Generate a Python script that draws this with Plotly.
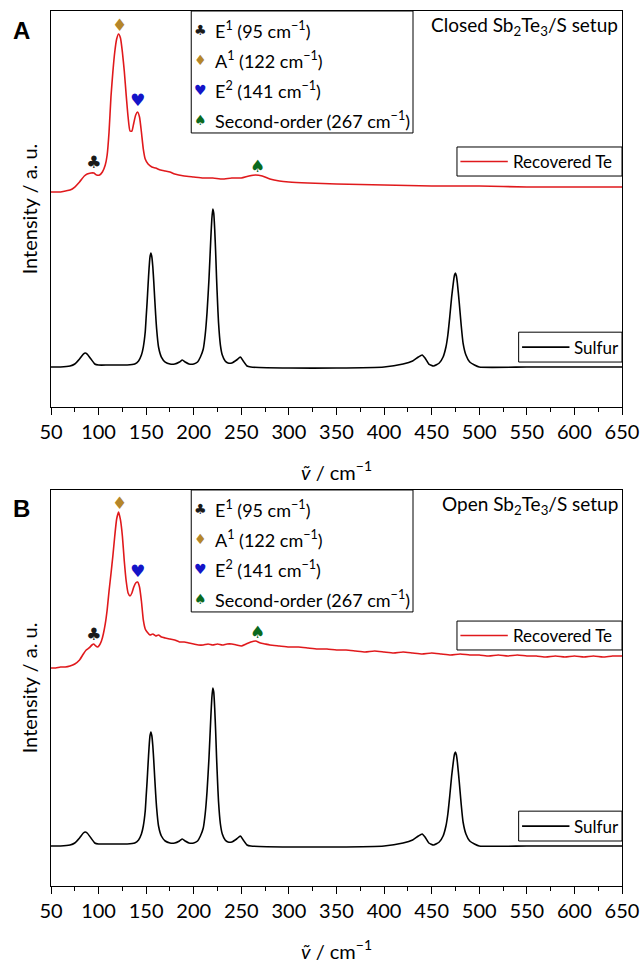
import plotly.graph_objects as go

# Raman shift axis
tick_labels = [str(v) for v in range(50, 651, 50)]

# Recovered Te, closed Sb2Te3/S setup (offset intensity, a.u.)
te_closed_x = [50, 55, 60, 65, 70, 75, 80, 85, 88, 92, 95, 98, 101, 104, 107, 109, 111, 113, 115, 117,
               119, 121, 123, 125, 127, 129, 131, 133, 135, 137, 139, 141, 143, 145, 147, 149, 152, 156,
               160, 165, 170, 175, 180, 190, 200, 210, 220, 230, 240, 250, 258, 265, 272, 280, 290, 300,
               320, 350, 400, 450, 500, 550, 600, 650]
te_closed_y = [215, 215, 215, 216, 217, 220, 225, 231, 233, 234, 234, 232, 232, 235, 242, 252, 275, 310,
               335, 355, 368, 373, 369, 355, 336, 312, 290, 276, 276, 284, 292, 295, 290, 275, 258, 248,
               243, 240, 239, 237, 236, 235, 233, 231, 230, 229, 229, 228, 229, 229, 231, 232, 231, 228,
               226, 225, 224, 223, 222, 221, 221, 220, 220, 220]

# Recovered Te, open Sb2Te3/S setup (offset intensity, a.u.)
te_open_x = [50, 55, 60, 65, 70, 75, 80, 84, 87, 90, 93, 95, 97, 99, 101, 103, 105, 107, 109, 111,
             113, 115, 117, 119, 121, 123, 125, 127, 129, 131, 133, 135, 137, 139, 141, 143, 145, 147,
             149, 151, 154, 157, 160, 163, 166, 170, 175, 180, 185, 190, 195, 200, 205, 210, 215, 220,
             225, 230, 235, 240, 245, 250, 255, 260, 265, 270, 275, 280, 290, 300,
             310, 320, 330, 340, 350, 360, 370, 380, 390, 400, 410, 420, 430, 440, 450, 460, 470, 480,
             490, 500, 510, 520, 530, 540, 550, 560, 570, 580, 590, 600, 610, 620, 630, 640, 650]
te_open_y = [218, 218, 219, 219, 220, 222, 226, 232, 236, 238, 241, 242, 240, 239, 241, 245, 252, 262,
             276, 295, 312, 330, 350, 367, 374, 366, 350, 325, 305, 293, 290, 293, 299, 303, 304, 299,
             285, 266, 257, 254, 251, 252, 250, 251, 249, 248, 247, 246, 244, 244, 243, 242, 241, 241,
             242, 241, 242, 241, 242, 242, 241, 240, 242, 244, 245, 243, 242, 241, 240, 239,
             239, 238, 237, 237, 236, 236, 235, 234, 235, 234, 233, 234, 233, 232, 233, 232, 231, 232,
             231, 231, 230, 231, 230, 231, 230, 230, 229, 230, 229, 230, 229, 230, 229, 230, 230]

# Sulfur reference spectrum (offset intensity, a.u.)
sulfur_x = [50, 60, 70, 75, 80, 84, 86, 88, 92, 96, 100, 110, 120, 130, 138, 142, 145, 147, 149, 150,
            151, 152, 153, 154, 155, 156, 157, 158, 159, 160, 161, 163, 166, 170, 175, 180, 185, 188,
            191, 195, 200, 204, 207, 210, 212, 214, 216, 218, 219, 220, 221, 222, 223, 224, 225, 226,
            228, 230, 233, 236, 240, 245, 249, 252, 256, 260, 300, 350, 400, 420, 430, 436, 440, 443,
            447, 452, 458, 462, 465, 467, 469, 471, 473, 474, 475, 476, 477, 479, 481, 483, 486, 490,
            495, 500, 550, 600, 650]
sulfur_y = [40, 40, 41, 43, 48, 53, 54, 53, 48, 43, 42, 42, 42, 42, 43, 46, 52, 60, 75, 90,
            105, 122, 138, 150, 154, 150, 140, 125, 108, 92, 78, 60, 50, 45, 43, 43, 45, 47,
            45, 43, 43, 45, 50, 58, 72, 95, 128, 170, 188, 198, 194, 178, 155, 128, 105, 85,
            62, 52, 46, 44, 44, 47, 50, 46, 41, 40, 39, 39, 40, 43, 46, 50, 52, 49,
            43, 41, 44, 50, 60, 72, 90, 110, 126, 132, 134, 131, 124, 104, 82, 64, 52, 45,
            42, 40, 40, 40, 40]

# Te phonon modes
mode_x = [95, 122, 141, 267]
mode_glyphs = ["\u2663", "\u2666", "\u2665", "\u2660"]
mode_colors = ["#1a1a1a", "#b5862a", "#1414c8", "#0a6a1e"]
mode_labels = ["E<sup>1</sup> (95 cm<sup>\u22121</sup>)",
               "A<sup>1</sup> (122 cm<sup>\u22121</sup>)",
               "E<sup>2</sup> (141 cm<sup>\u22121</sup>)",
               "Second-order (267 cm<sup>\u22121</sup>)"]
marker_y_closed = [243, 380, 305, 239]
marker_y_open = [250, 381, 313, 252]

setup_titles = ["Closed Sb<sub>2</sub>Te<sub>3</sub>/S setup", "Open Sb<sub>2</sub>Te<sub>3</sub>/S setup"]
panel_letters = ["A", "B"]

RED = "#e0191c"
FONT = "Lato"

fig = go.Figure()

panels = [
    ("x", "y", te_closed_x, te_closed_y, marker_y_closed),
    ("x2", "y2", te_open_x, te_open_y, marker_y_open),
]

shapes = []
annotations = []

for i, (xa, ya, tx, ty, my) in enumerate(panels):
    fig.add_trace(go.Scatter(x=tx, y=ty, mode="lines", xaxis=xa, yaxis=ya, name="Recovered Te",
                             line=dict(color=RED, width=1.6, shape="spline", smoothing=0.5),
                             showlegend=False))
    fig.add_trace(go.Scatter(x=sulfur_x, y=sulfur_y, mode="lines", xaxis=xa, yaxis=ya, name="Sulfur",
                             line=dict(color="black", width=1.6, shape="spline", smoothing=0.5),
                             showlegend=False))
    fig.add_trace(go.Scatter(x=mode_x, y=my, mode="text", xaxis=xa, yaxis=ya, text=mode_glyphs,
                             textposition="middle center",
                             textfont=dict(family="DejaVu Sans", size=17, color=mode_colors),
                             showlegend=False, hoverinfo="skip"))

    xr, yr = f"{xa} domain", f"{ya} domain"

    # mode key box
    shapes.append(dict(type="rect", xref=xr, yref=yr, x0=0.2456, x1=0.634, y0=0.692, y1=1.0,
                       line=dict(color="black", width=1)))
    row_y = [0.952, 0.876, 0.801, 0.725]
    for g, c, lab, yy in zip(mode_glyphs, mode_colors, mode_labels, row_y):
        annotations.append(dict(xref=xr, yref=yr, x=0.2614, y=yy, text=g, showarrow=False,
                                xanchor="center", yanchor="middle",
                                font=dict(family="DejaVu Sans", size=14, color=c)))
        annotations.append(dict(xref=xr, yref=yr, x=0.2843, y=yy, text=lab, showarrow=False,
                                xanchor="left", yanchor="middle",
                                font=dict(family=FONT, size=18, color="black")))

    # setup title
    annotations.append(dict(xref=xr, yref=yr, x=0.997, y=0.962, text=setup_titles[i], showarrow=False,
                            xanchor="right", yanchor="middle",
                            font=dict(family=FONT, size=19, color="black")))
    # panel letter
    annotations.append(dict(xref=xr, yref=yr, x=-0.051, y=0.952, text=f"<b>{panel_letters[i]}</b>",
                            showarrow=False, xanchor="center", yanchor="middle",
                            font=dict(family="Liberation Sans", size=24, color="black")))

    # series keys
    te_box = (0.711, 1.0, 0.5833, 0.6566) if i == 0 else (0.711, 1.0, 0.596, 0.669)
    s_box = (0.819, 1.0, 0.1136, 0.189)
    for (x0, x1, y0, y1), col, lab in [(te_box, RED, "Recovered Te"), (s_box, "black", "Sulfur")]:
        shapes.append(dict(type="rect", xref=xr, yref=yr, x0=x0, x1=x1, y0=y0, y1=y1,
                           line=dict(color="black", width=1)))
        ym = (y0 + y1) / 2
        lx0 = x0 + 0.006
        lx1 = lx0 + 0.083
        shapes.append(dict(type="line", xref=xr, yref=yr, x0=lx0, x1=lx1, y0=ym, y1=ym,
                           line=dict(color=col, width=1.6)))
        annotations.append(dict(xref=xr, yref=yr, x=lx1 + 0.005, y=ym, text=lab, showarrow=False,
                                xanchor="left", yanchor="middle",
                                font=dict(family=FONT, size=17, color="black")))

xstyle = dict(range=[50, 650], tickmode="array", tickvals=[int(t) for t in tick_labels],
              ticktext=tick_labels, ticks="outside", ticklen=7, tickwidth=1, tickcolor="black",
              showline=True, linecolor="black", linewidth=1, mirror=True, showgrid=False,
              zeroline=False, automargin=False,
              minor=dict(tickmode="linear", tick0=50, dtick=25, ticks="outside", ticklen=4,
                         tickwidth=1, tickcolor="black", showgrid=False),
              tickfont=dict(family=FONT, size=20, color="black"),
              title=dict(text="<i>\u1e7d</i> / cm<sup>\u22121</sup>",
                         font=dict(family=FONT, size=20, color="black"), standoff=23))
ystyle = dict(range=[0, 396], showticklabels=False, ticks="", showline=True, linecolor="black",
              linewidth=1, mirror=True, showgrid=False, zeroline=False, automargin=False,
              title=dict(text="Intensity / a. u.", font=dict(family=FONT, size=20, color="black"),
                         standoff=6))

fig.update_layout(
    width=641, height=963,
    margin=dict(l=51, r=19, t=11, b=77),
    paper_bgcolor="white", plot_bgcolor="white",
    xaxis=dict(**xstyle, anchor="y"),
    yaxis=dict(**ystyle, domain=[0.5474, 1.0], anchor="x"),
    xaxis2=dict(**xstyle, anchor="y2"),
    yaxis2=dict(**ystyle, domain=[0.0, 0.4526], anchor="x2"),
    shapes=shapes,
    annotations=annotations,
    showlegend=False,
)

fig.write_html("out.html")
